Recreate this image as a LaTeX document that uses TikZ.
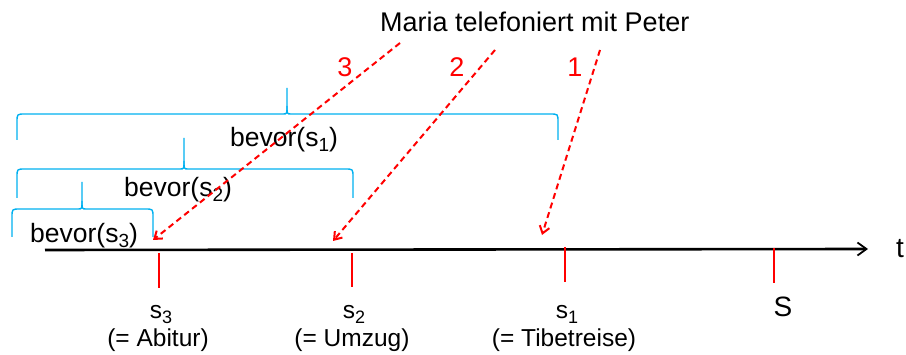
\documentclass[tikz,border=0pt]{standalone}
\usepackage{fontspec}
\setmainfont{Liberation Sans}
\usetikzlibrary{arrows.meta}
\definecolor{bracecol}{HTML}{00B0F0}
\definecolor{redcol}{HTML}{FF0000}
% xl, xm, xr, ytop, yh, ybot
\newcommand\mybrace[6]{%
  \draw[bracestyle] (#1,#6) -- (#1,#5+8) .. controls (#1,#5) .. (#1+8,#5) -- (#2-4,#5) .. controls (#2,#5) .. (#2,#5-8) -- (#2,#4);
  \draw[bracestyle] (#2,#5-8) .. controls (#2,#5) .. (#2+4,#5) -- (#3-8,#5) .. controls (#3,#5) .. (#3,#5+8) -- (#3,#6);}
\newcommand\mysub[2]{\raisebox{-5pt}{\fontsize{#1}{#1}\selectfont #2}}
\begin{document}
\begin{tikzpicture}[x=1pt,y=-1pt,
  txt/.style={inner sep=0pt,font=\fontsize{24.5}{28}\selectfont},
  bevtxt/.style={inner sep=0pt,font=\fontsize{26.5}{30}\selectfont},
  bigtxt/.style={inner sep=0pt,font=\fontsize{27}{31}\selectfont},
  numtxt/.style={bigtxt,text=redcol},
  bracestyle/.style={draw=bracecol,line width=1.4pt},
  axisline/.style={draw=black,line width=2.6pt,-{Straight Barb[length=9pt,width=13pt,line width=1.8pt]}},
  tickline/.style={draw=redcol,line width=2pt},
  callarrow/.style={draw=redcol,line width=2pt,dash pattern=on 6pt off 4pt,-{Straight Barb[length=7pt,width=10pt]}}]
\useasboundingbox (0,0) rectangle (906,355);

% braces
\mybrace{17}{287}{558}{88}{114}{140}
\mybrace{17}{184}{353}{138}{169}{198}
\mybrace{12}{82}{153}{182}{209}{237}

\node[bevtxt,anchor=base west] (b1) at (230,147) {bevor(s\mysub{19}{1})};
\node[bevtxt,anchor=base west] (b2) at (124,197) {bevor(s\mysub{19}{2})};
\node[bevtxt,anchor=base west] (b3) at (30,243) {bevor(s\mysub{19}{3})};

% axis
\coordinate (axL) at (45,250);
\coordinate (axR) at (868,249);
\draw[axisline] (axL) -- (axR);
\node[bigtxt,font=\fontsize{28}{32}\selectfont,anchor=base west] (t) at (896,258) {t};

% ticks
\coordinate (k3a) at (159,253); \coordinate (k3b) at (159,288);
\coordinate (k2a) at (352,253); \coordinate (k2b) at (352,287);
\coordinate (k1a) at (565,247); \coordinate (k1b) at (565,282);
\coordinate (kSa) at (774,248); \coordinate (kSb) at (774,283);
\draw[tickline] (k3a) -- (k3b);
\draw[tickline] (k2a) -- (k2b);
\draw[tickline] (k1a) -- (k1b);
\draw[tickline] (kSa) -- (kSb);

% tick labels
\node[txt,anchor=base] (s3) at (161,319) {s\mysub{18}{3}};
\node[txt,anchor=base] (a3) at (158,347) {(= Abitur)};
\node[txt,anchor=base] (s2) at (354,319) {s\mysub{18}{2}};
\node[txt,anchor=base] (a2) at (352,347) {(= Umzug)};
\node[txt,anchor=base] (s1) at (567,319) {s\mysub{18}{1}};
\node[txt,anchor=base] (a1) at (564,347) {(= Tibetreise)};
\node[txt,font=\fontsize{28}{32}\selectfont,anchor=base] (S) at (783,317) {S};

% sentence and numbers
\node[bigtxt,anchor=base west] (maria) at (380,32) {Maria telefoniert mit Peter};
\node[numtxt,anchor=base] (n3) at (345,77) {3};
\node[numtxt,anchor=base] (n2) at (457,77) {2};
\node[numtxt,anchor=base] (n1) at (575,77) {1};

% call arrows
\coordinate (c3a) at (400,43); \coordinate (c3b) at (153,240);
\coordinate (c2a) at (495,50); \coordinate (c2b) at (333,241);
\coordinate (c1a) at (600,50); \coordinate (c1b) at (542,235);
\draw[callarrow] (c3a) -- (c3b);
\draw[callarrow] (c2a) -- (c2b);
\draw[callarrow] (c1a) -- (c1b);
\end{tikzpicture}
\end{document}
